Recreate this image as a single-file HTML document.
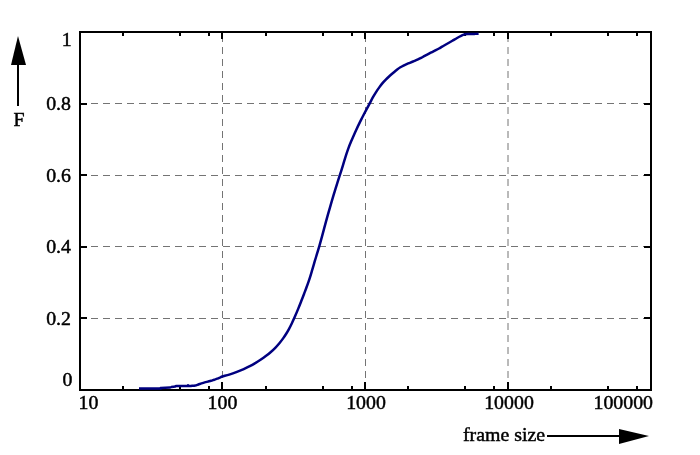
<!DOCTYPE html><html><head><meta charset="utf-8"><title>plot</title><style>
html,body{margin:0;padding:0;background:#fff;width:700px;height:455px;overflow:hidden}
svg{display:block}
text{font-family:"Liberation Serif",serif;fill:#000;stroke:#000;stroke-width:0.45px}
</style></head><body>
<svg width="700" height="455" viewBox="0 0 700 455">
<rect width="700" height="455" fill="#fff"/>
<line x1="79" y1="103.5" x2="651" y2="103.5" stroke="#747474" stroke-width="1" stroke-dasharray="7 5" shape-rendering="crispEdges"/>
<line x1="79" y1="175.5" x2="651" y2="175.5" stroke="#747474" stroke-width="1" stroke-dasharray="7 5" shape-rendering="crispEdges"/>
<line x1="79" y1="246.5" x2="651" y2="246.5" stroke="#747474" stroke-width="1" stroke-dasharray="7 5" shape-rendering="crispEdges"/>
<line x1="79" y1="318.5" x2="651" y2="318.5" stroke="#747474" stroke-width="1" stroke-dasharray="7 5" shape-rendering="crispEdges"/>
<line x1="222.5" y1="390" x2="222.5" y2="33" stroke="#747474" stroke-width="1" stroke-dasharray="7 5"/>
<line x1="365.5" y1="390" x2="365.5" y2="33" stroke="#747474" stroke-width="1" stroke-dasharray="7 5"/>
<line x1="508" y1="390" x2="508" y2="33" stroke="#747474" stroke-width="1" stroke-dasharray="7 5"/>
<rect x="80" y="32" width="571" height="358" fill="none" stroke="#000" stroke-width="2" shape-rendering="crispEdges"/>
<rect x="81" y="103" width="6" height="2" fill="#000"/>
<rect x="644" y="103" width="6" height="2" fill="#000"/>
<rect x="81" y="174" width="6" height="2" fill="#000"/>
<rect x="644" y="174" width="6" height="2" fill="#000"/>
<rect x="81" y="246" width="6" height="2" fill="#000"/>
<rect x="644" y="246" width="6" height="2" fill="#000"/>
<rect x="81" y="317" width="6" height="2" fill="#000"/>
<rect x="644" y="317" width="6" height="2" fill="#000"/>
<rect x="221" y="33" width="2" height="6" fill="#000"/>
<rect x="221" y="382" width="2" height="7" fill="#000"/>
<rect x="364" y="33" width="2" height="6" fill="#000"/>
<rect x="364" y="382" width="2" height="7" fill="#000"/>
<rect x="507" y="33" width="2" height="6" fill="#000"/>
<rect x="507" y="382" width="2" height="7" fill="#000"/>
<rect x="122" y="33" width="2" height="3" fill="#000"/>
<rect x="122" y="386" width="2" height="3" fill="#000"/>
<rect x="179" y="33" width="2" height="3" fill="#000"/>
<rect x="179" y="386" width="2" height="3" fill="#000"/>
<rect x="208" y="33" width="2" height="3" fill="#000"/>
<rect x="208" y="386" width="2" height="3" fill="#000"/>
<rect x="265" y="33" width="2" height="3" fill="#000"/>
<rect x="265" y="386" width="2" height="3" fill="#000"/>
<rect x="322" y="33" width="2" height="3" fill="#000"/>
<rect x="322" y="386" width="2" height="3" fill="#000"/>
<rect x="351" y="33" width="2" height="3" fill="#000"/>
<rect x="351" y="386" width="2" height="3" fill="#000"/>
<rect x="407" y="33" width="2" height="3" fill="#000"/>
<rect x="407" y="386" width="2" height="3" fill="#000"/>
<rect x="464" y="33" width="2" height="3" fill="#000"/>
<rect x="464" y="386" width="2" height="3" fill="#000"/>
<rect x="493" y="33" width="2" height="3" fill="#000"/>
<rect x="493" y="386" width="2" height="3" fill="#000"/>
<rect x="550" y="33" width="2" height="3" fill="#000"/>
<rect x="550" y="386" width="2" height="3" fill="#000"/>
<rect x="607" y="33" width="2" height="3" fill="#000"/>
<rect x="607" y="386" width="2" height="3" fill="#000"/>
<rect x="636" y="33" width="2" height="3" fill="#000"/>
<rect x="636" y="386" width="2" height="3" fill="#000"/>
<path d="M139,388.6 C142.42,388.58 155.83,388.60 159.5,388.5 C163.17,388.40 159.25,388.15 161,388.0 C162.75,387.85 168.25,387.77 170,387.6 C171.75,387.43 170.67,387.17 171.5,387.0 C172.33,386.83 174.17,386.77 175,386.6 C175.83,386.43 174.50,386.10 176.5,386.0 C178.50,385.90 185.08,386.13 187,386.0 C188.92,385.87 187.67,385.20 188,385.2 C188.33,385.20 188.33,385.90 189,386.0 C189.67,386.10 190.97,385.88 192,385.8 C193.03,385.72 194.15,385.72 195.2,385.5 C196.25,385.28 197.25,384.85 198.3,384.5 C199.35,384.15 200.43,383.75 201.5,383.4 C202.57,383.05 203.65,382.70 204.7,382.4 C205.75,382.10 206.75,381.87 207.8,381.6 C208.85,381.33 209.93,381.12 211,380.8 C212.07,380.48 213.15,380.05 214.2,379.7 C215.25,379.35 216.25,379.10 217.3,378.7 C218.35,378.30 219.67,377.67 220.5,377.3 C221.33,376.93 220.85,376.95 222.3,376.5 C223.75,376.05 226.77,375.37 229.2,374.6 C231.63,373.83 234.48,372.82 236.9,371.9 C239.32,370.98 241.58,370.01 243.73,369.06 C245.88,368.11 247.89,367.20 249.81,366.22 C251.73,365.24 253.47,364.24 255.26,363.17 C257.05,362.10 258.78,360.99 260.53,359.81 C262.28,358.63 264.05,357.42 265.77,356.12 C267.49,354.82 269.24,353.44 270.86,352.02 C272.49,350.59 274.06,349.07 275.52,347.57 C276.97,346.07 278.32,344.54 279.59,343.01 C280.85,341.48 282.01,339.93 283.11,338.38 C284.21,336.83 285.23,335.30 286.2,333.74 C287.17,332.18 288.02,330.72 288.93,329.04 C289.84,327.36 290.67,325.71 291.65,323.67 C292.63,321.63 293.71,319.31 294.81,316.81 C295.91,314.31 297.16,311.35 298.27,308.64 C299.38,305.93 300.50,303.06 301.48,300.57 C302.46,298.08 303.31,295.83 304.12,293.69 C304.93,291.55 305.65,289.69 306.36,287.75 C307.07,285.81 307.73,283.99 308.39,282.08 C309.05,280.17 309.68,278.25 310.31,276.27 C310.94,274.28 311.53,272.25 312.15,270.17 C312.76,268.09 313.38,265.92 314.0,263.81 C314.62,261.70 315.26,259.55 315.89,257.49 C316.51,255.43 317.13,253.50 317.75,251.44 C318.37,249.38 318.97,247.42 319.61,245.16 C320.25,242.90 320.93,240.44 321.62,237.88 C322.31,235.32 323.05,232.49 323.77,229.82 C324.49,227.15 325.21,224.43 325.91,221.86 C326.61,219.30 327.31,216.81 327.98,214.43 C328.65,212.05 329.31,209.78 329.94,207.56 C330.57,205.34 331.16,203.27 331.79,201.11 C332.42,198.95 333.04,196.81 333.71,194.61 C334.38,192.41 335.09,190.08 335.78,187.89 C336.46,185.70 337.17,183.49 337.82,181.46 C338.47,179.43 339.08,177.53 339.66,175.71 C340.24,173.89 340.78,172.24 341.31,170.54 C341.84,168.84 342.33,167.26 342.86,165.53 C343.39,163.80 343.90,162.06 344.49,160.16 C345.08,158.26 345.70,156.20 346.38,154.16 C347.06,152.12 347.79,149.97 348.55,147.91 C349.31,145.85 350.12,143.86 350.97,141.82 C351.82,139.78 352.71,137.75 353.62,135.69 C354.53,133.63 355.49,131.49 356.42,129.48 C357.35,127.47 358.28,125.49 359.19,123.62 C360.10,121.75 361.00,119.97 361.87,118.24 C362.75,116.51 363.62,114.82 364.44,113.26 C365.26,111.70 366.04,110.26 366.77,108.9 C367.50,107.54 368.12,106.38 368.79,105.12 C369.46,103.86 370.05,102.69 370.77,101.33 C371.49,99.97 372.25,98.50 373.13,96.97 C374.01,95.44 375.02,93.73 376.04,92.13 C377.06,90.53 378.18,88.88 379.26,87.39 C380.34,85.90 381.44,84.48 382.53,83.17 C383.62,81.86 384.72,80.66 385.81,79.54 C386.90,78.42 388.01,77.41 389.06,76.46 C390.11,75.50 391.14,74.64 392.11,73.81 C393.08,72.98 393.96,72.23 394.86,71.48 C395.76,70.73 396.60,70.01 397.52,69.31 C398.44,68.61 399.39,67.92 400.39,67.29 C401.39,66.67 402.45,66.09 403.5,65.56 C404.55,65.03 405.62,64.58 406.67,64.12 C407.73,63.66 408.77,63.24 409.83,62.8 C410.88,62.36 411.94,61.94 413.0,61.5 C414.06,61.06 415.12,60.64 416.19,60.17 C417.26,59.70 418.34,59.22 419.44,58.69 C420.54,58.16 421.69,57.58 422.81,56.99 C423.94,56.40 425.08,55.76 426.19,55.17 C427.30,54.58 428.39,53.99 429.47,53.43 C430.55,52.87 431.61,52.35 432.67,51.81 C433.73,51.27 434.77,50.75 435.83,50.19 C436.88,49.63 437.94,49.06 439.0,48.47 C440.06,47.88 441.10,47.24 442.17,46.62 C443.24,46.00 444.28,45.38 445.41,44.73 C446.54,44.08 447.69,43.43 448.94,42.71 C450.19,41.99 451.56,41.19 452.91,40.4 C454.27,39.61 455.70,38.73 457.07,37.98 C458.44,37.23 459.81,36.50 461.11,35.89 C462.42,35.28 463.57,34.61 464.9,34.3 C466.23,33.98 467.53,34.07 469.1,34.0 C470.67,33.93 472.72,33.93 474.3,33.9 C475.88,33.87 477.88,33.82 478.6,33.8" fill="none" stroke="#000080" stroke-width="2.5" stroke-linejoin="round" stroke-linecap="butt"/>
<text transform="translate(71.8,45.5) scale(1.045,1)" font-size="19" text-anchor="end" >1</text>
<text transform="translate(71.0,109.5) scale(1.045,1)" font-size="19" text-anchor="end" >0.8</text>
<text transform="translate(71.0,181.6) scale(1.045,1)" font-size="19" text-anchor="end" >0.6</text>
<text transform="translate(71.0,252.5) scale(1.045,1)" font-size="19" text-anchor="end" >0.4</text>
<text transform="translate(71.0,324.5) scale(1.045,1)" font-size="19" text-anchor="end" >0.2</text>
<text transform="translate(72.5,385.5) scale(1.045,1)" font-size="19" text-anchor="end" >0</text>
<text transform="translate(78.5,408.5) scale(1.045,1)" font-size="19" text-anchor="start" >10</text>
<text transform="translate(222.5,408.5) scale(1.045,1)" font-size="19" text-anchor="middle" >100</text>
<text transform="translate(366,408.5) scale(1.045,1)" font-size="19" text-anchor="middle" >1000</text>
<text transform="translate(509,408.5) scale(1.045,1)" font-size="19" text-anchor="middle" >10000</text>
<text transform="translate(653,408.5) scale(1.045,1)" font-size="19" text-anchor="end" >100000</text>
<text transform="translate(13.5,126) scale(1.045,1)" font-size="19" text-anchor="start" >F</text>
<text transform="translate(463,440.5) scale(1.045,1)" font-size="19" text-anchor="start" >frame size</text>
<rect x="17" y="64" width="2" height="42" fill="#000"/>
<polygon points="11,65 18,36 26,65" fill="#000"/>
<rect x="547" y="435" width="73" height="2" fill="#000"/>
<polygon points="619,429 649,436 619,444" fill="#000"/>
</svg></body></html>
